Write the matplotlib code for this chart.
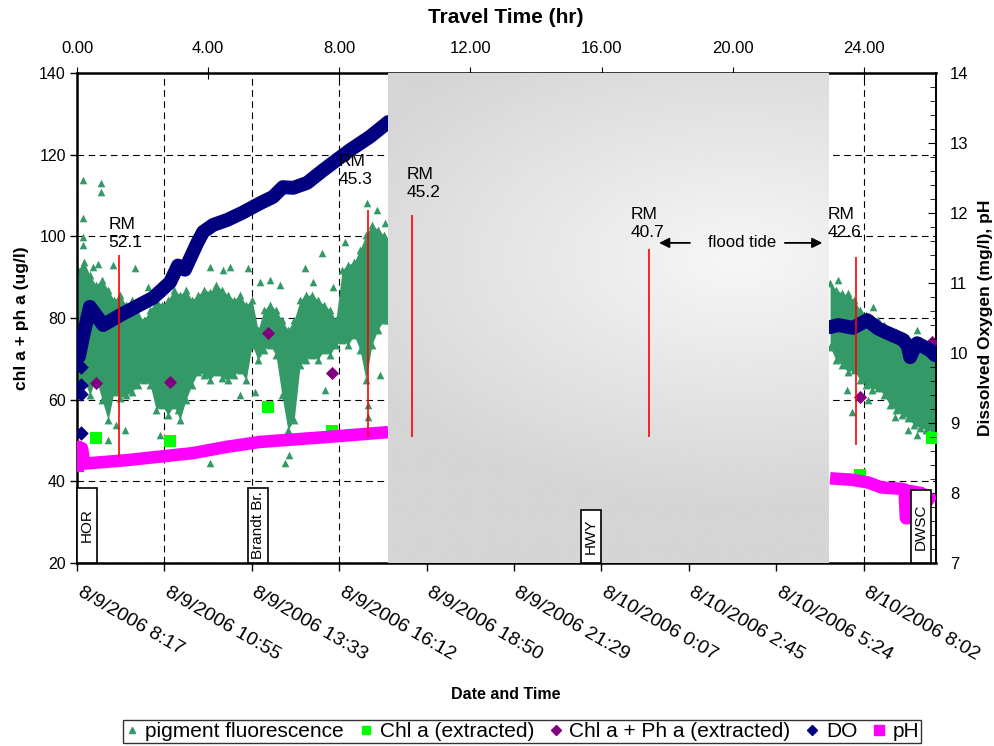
import numpy as np
import matplotlib
matplotlib.use('Agg')
import matplotlib.pyplot as plt
import matplotlib.transforms as mtransforms
from matplotlib.ticker import MultipleLocator
from matplotlib.patches import Rectangle
from matplotlib.lines import Line2D

plt.rcParams['font.family'] = ['Liberation Sans', 'DejaVu Sans']

# time is hours after 8/9/2006 8:17
date_tick_hr = [0, 2.64, 5.28, 7.92, 10.56, 13.2, 15.84, 18.48, 21.12, 23.76]
date_labels = ['8/9/2006 8:17', '8/9/2006 10:55', '8/9/2006 13:33', '8/9/2006 16:12',
               '8/9/2006 18:50', '8/9/2006 21:29', '8/10/2006 0:07', '8/10/2006 2:45',
               '8/10/2006 5:24', '8/10/2006 8:02']
travel_ticks = [0, 4, 8, 12, 16, 20, 24]

# pigment fluorescence, dense band (envelope) before and after the gap
fl1_t = [0.03, 0.21, 0.39, 0.57, 0.76, 0.94, 1.12, 1.30, 1.48, 1.66, 1.84, 2.02, 2.21, 2.39,
         2.57, 2.75, 2.93, 3.11, 3.29, 3.47, 3.66, 3.84, 4.02, 4.20, 4.38, 4.56, 4.74, 4.92,
         5.11, 5.29, 5.47, 5.65, 5.83, 6.01, 6.19, 6.37, 6.56, 6.74, 6.92, 7.10, 7.28, 7.46,
         7.64, 7.82, 8.01, 8.19, 8.37, 8.55, 8.73, 8.91, 9.09, 9.27, 9.40]
fl1_hi = [91.8, 93.7, 90.5, 88.1, 89.3, 86.9, 84.4, 85.6, 83.2, 84.4, 80.7, 79.5, 82.0, 84.4,
          83.2, 84.4, 86.9, 85.6, 86.9, 84.4, 85.6, 86.9, 86.4, 88.1, 86.9, 85.6, 84.4, 85.6,
          83.2, 84.4, 77.1, 82.0, 83.2, 82.0, 79.5, 77.1, 79.5, 84.4, 85.6, 85.6, 84.4, 83.2,
          82.0, 79.5, 91.8, 93.0, 93.7, 96.7, 100.3, 102.8, 101.6, 100.3, 99.1]
fl1_lo = [63.6, 64.8, 61.1, 65.3, 59.9, 55.0, 61.9, 60.4, 61.1, 61.9, 63.6, 64.8, 63.6, 57.5,
          58.7, 56.2, 58.7, 55.0, 59.9, 63.6, 66.8, 66.0, 64.8, 66.8, 65.3, 64.8, 66.0, 67.3,
          64.8, 73.4, 69.7, 72.2, 73.4, 70.9, 61.1, 52.6, 55.0, 68.5, 69.7, 70.9, 69.7, 72.2,
          70.9, 73.4, 74.6, 73.4, 75.8, 72.2, 64.8, 73.4, 77.1, 79.5, 79.5]
fl2_t = [22.75, 22.93, 23.11, 23.29, 23.47, 23.66, 23.84, 24.02, 24.20, 24.38, 24.56, 24.74,
         24.92, 25.11, 25.29, 25.47, 25.65, 25.83, 25.92]
fl2_hi = [88.6, 86.9, 86.1, 85.6, 84.4, 82.0, 80.7, 80.0, 79.5, 78.3, 77.1, 76.6, 75.8, 75.1,
          73.9, 73.4, 72.9, 72.2, 70.9]
fl2_lo = [72.9, 69.7, 68.5, 66.8, 67.3, 64.8, 63.6, 62.4, 62.9, 61.1, 58.7, 57.5, 56.2, 55.5,
          53.8, 53.1, 52.6, 52.1, 51.3]
# scattered single readings
fl_pt_t = [0.18, 0.73, 0.73, 0.18, 0.18, 0.18, 0.48, 0.63, 1.09, 1.75, 2.15, 4.02, 4.41, 4.62,
           5.17, 5.53, 5.83, 6.13, 6.89, 7.13, 7.40, 7.73, 8.10, 8.76, 9.06, 9.31,
           0.94, 1.18, 1.45, 2.51, 3.05, 4.02, 6.28, 6.40, 8.79, 8.79, 9.15, 7.49, 4.92, 5.38,
           22.99, 23.29, 24.05, 24.65, 25.38, 23.26, 23.41, 23.90, 24.71, 25.11, 25.38, 25.90]
fl_pt_v = [113.8, 113.1, 110.9, 104.5, 99.8, 97.9, 92.5, 93.2, 93.0, 92.2, 87.6, 92.5, 91.8, 92.5,
           92.2, 88.8, 89.3, 88.1, 92.2, 88.8, 95.9, 87.6, 98.6, 108.2, 106.5, 103.3,
           50.1, 53.8, 52.6, 51.3, 57.5, 44.5, 44.5, 46.4, 55.8, 58.7, 66.0, 62.4, 61.1, 61.9,
           89.3, 86.1, 82.7, 75.3, 77.1, 62.4, 57.0, 59.9, 55.8, 52.6, 51.3, 51.8]

chl_t = [0.57, 2.81, 5.77, 7.70, 23.66, 25.83]
chl_v = [50.6, 49.9, 58.2, 52.3, 41.6, 50.6]
chlph_t = [0.57, 2.81, 5.77, 7.70, 23.66, 25.83]
chlph_v = [64.1, 64.3, 76.3, 66.5, 60.7, 74.1]

do1_t = [0.06, 0.18, 0.39, 0.79, 1.30, 2.30, 2.81, 3.05, 3.26, 3.63, 3.81, 4.11, 4.53, 4.98,
         5.53, 5.92, 6.22, 6.53, 6.95, 7.43, 7.85, 8.25, 8.85, 9.30, 9.40]
do1_v = [9.95, 10.23, 10.66, 10.40, 10.54, 10.79, 11.01, 11.25, 11.19, 11.57, 11.73, 11.83,
         11.90, 12.00, 12.14, 12.23, 12.37, 12.36, 12.43, 12.61, 12.76, 12.90, 13.09, 13.26, 13.30]
do2_t = [22.75, 23.00, 23.44, 23.87, 24.20, 24.47, 24.95, 25.10, 25.17, 25.30, 25.38, 25.77, 25.92]
do2_v = [10.37, 10.40, 10.36, 10.47, 10.35, 10.29, 10.19, 10.10, 9.94, 10.08, 10.14, 10.04, 9.97]
do_pt_t = [0.12, 0.12, 0.12, 0.12]
do_pt_v = [8.86, 9.42, 9.55, 9.80]

ph1_t = [0.02, 0.04, 0.15, 0.22, 0.48, 1.51, 3.50, 4.53, 5.53, 7.55, 9.40]
ph1_v = [8.30, 8.66, 8.64, 8.42, 8.43, 8.47, 8.57, 8.66, 8.73, 8.80, 8.87]
ph2_t = [22.75, 23.40, 23.90, 24.30, 24.90, 25.00, 25.04, 25.10, 25.14, 25.50, 25.90]
ph2_v = [8.21, 8.19, 8.15, 8.08, 8.06, 8.05, 7.64, 7.64, 8.03, 8.00, 7.87]

# river mile markers: time, bottom, top
rm_labels = ['52.1', '45.3', '45.2', '40.7', '42.6']
rm_t = [1.27, 8.79, 10.12, 17.28, 23.53]
rm_lo = [46.0, 50.9, 50.9, 50.9, 48.9]
rm_hi = [95.4, 106.5, 105.2, 96.9, 94.9]
rm_text_t = [0.94, 7.89, 9.97, 16.71, 22.69]
rm_text_v = [104.8, 120.2, 117.0, 107.2, 107.2]

stations = ['HOR', 'Brandt Br.', 'HWY', 'DWSC']
station_t = [0.0, 5.17, 15.23, 25.20]
station_h = [18.4, 18.4, 13.0, 17.9]

GREEN = '#339966'

fig = plt.figure(figsize=(9.95, 7.46), dpi=100)
ax = fig.add_axes([0.0774, 0.2453, 0.8633, 0.6568])
ax.set_xlim(0, 25.95)
ax.set_ylim(20, 140)

ax.fill_between(fl1_t, fl1_lo, fl1_hi, color=GREEN, lw=0, zorder=2)
ax.fill_between(fl2_t, fl2_lo, fl2_hi, color=GREEN, lw=0, zorder=2)
edge_t = fl1_t + fl1_t + fl2_t + fl2_t
edge_v = fl1_lo + fl1_hi + fl2_lo + fl2_hi
ax.scatter(edge_t, edge_v, marker='^', s=32, color=GREEN, lw=0, zorder=2)
ax.scatter(fl_pt_t, fl_pt_v, marker='^', s=30, color=GREEN, lw=0, zorder=2)
ax.scatter(chl_t, chl_v, marker='s', s=75, color='#00ff00', lw=0, zorder=4)
ax.scatter(chlph_t, chlph_v, marker='D', s=45, color='#800080', lw=0, zorder=4)

ax.set_yticks(np.arange(20, 141, 20))
ax.set_xticks(date_tick_hr)
ax.set_xticklabels(date_labels, rotation=-30, ha='left', rotation_mode='anchor', fontsize=14)
ax.tick_params(axis='x', direction='out', length=6, width=1, pad=9)
ax.tick_params(axis='y', direction='out', length=5, width=1, labelsize=11.5, pad=3)
shift = mtransforms.ScaledTranslation(6 / 100, 0, fig.dpi_scale_trans)
for lab in ax.get_xticklabels():
    lab.set_transform(lab.get_transform() + shift)
ax.grid(True, color='black', linestyle=(0, (6, 4)), lw=0.8)
ax.set_axisbelow(True)
for s in ['left', 'bottom', 'top']:
    ax.spines[s].set_linewidth(1.8)
ax.spines['right'].set_linewidth(1.4)

ax_r = ax.twinx()
ax_r.set_ylim(7, 14)
ax_r.plot(do1_t, do1_v, color='#000080', lw=10, solid_capstyle='round', solid_joinstyle='round')
ax_r.plot(do2_t, do2_v, color='#000080', lw=10, solid_capstyle='round', solid_joinstyle='round')
ax_r.scatter(do_pt_t, do_pt_v, marker='D', s=55, color='#000080', lw=0)
ax_r.plot(ph1_t, ph1_v, color='#ff00ff', lw=9, solid_capstyle='butt', solid_joinstyle='round')
ax_r.plot(ph2_t, ph2_v, color='#ff00ff', lw=9, solid_capstyle='butt', solid_joinstyle='round')
ax_r.yaxis.set_major_locator(MultipleLocator(1))
ax_r.yaxis.set_minor_locator(MultipleLocator(0.2))
ax_r.tick_params(axis='y', which='major', direction='in', length=6, labelsize=12, pad=10)
ax_r.tick_params(axis='y', which='minor', direction='in', length=4)
for s in ax_r.spines.values():
    s.set_visible(False)

ax_top = ax.twiny()
ax_top.set_xlim(0, 26.2)
ax_top.set_xticks(travel_ticks)
ax_top.set_xticklabels(['%.2f' % v for v in travel_ticks])
ax_top.tick_params(axis='x', direction='inout', length=8, labelsize=12, pad=8)
for s in ax_top.spines.values():
    s.set_visible(False)

# overlay: shaded gap, river miles, station boxes
ax_ov = fig.add_axes([0.0774, 0.2453, 0.8633, 0.6568], zorder=10)
ax_ov.set_axis_off()
ax_ov.patch.set_visible(False)
gx, gy = np.meshgrid(np.linspace(0, 1, 200), np.linspace(0, 1, 200))
rr = np.sqrt((gx - 0.8) ** 2 + ((gy - 0.38) / 0.5) ** 2)
shade = 0.965 - 0.13 * np.clip(rr, 0, 1)
ax_ov.imshow(shade, extent=[9.40, 22.72, 19.6, 140.4], aspect='auto', cmap='gray',
             vmin=0, vmax=1, interpolation='bilinear', zorder=1)
ax_ov.set_xlim(0, 25.95)
ax_ov.set_ylim(20, 140)

ax_ov.vlines(rm_t, rm_lo, rm_hi, color='red', lw=1.2, zorder=3)
for lab, tt, vv in zip(rm_labels, rm_text_t, rm_text_v):
    ax_ov.text(tt, vv, 'RM\n' + lab, fontsize=12.5, ha='left', va='top', linespacing=1.25, zorder=4)

ax_ov.text(20.1, 98.4, 'flood tide', fontsize=12, ha='center', va='center', zorder=4)
ax_ov.annotate('', xy=(17.5, 98.4), xytext=(18.6, 98.4),
               arrowprops=dict(arrowstyle='-|>', color='black', lw=1.3, mutation_scale=15))
ax_ov.annotate('', xy=(22.6, 98.4), xytext=(21.3, 98.4),
               arrowprops=dict(arrowstyle='-|>', color='black', lw=1.3, mutation_scale=15))

for name, tt, hh in zip(stations, station_t, station_h):
    ax_ov.add_patch(Rectangle((tt, 20), 0.6, hh, facecolor='white', edgecolor='black',
                              lw=1.2, zorder=5, clip_on=False))
    ax_ov.text(tt + 0.3, 20 + hh / 2, name, rotation=90, fontsize=11, ha='center',
               va='center', zorder=6)

fig.text(0.508, 0.976, 'Travel Time (hr)', fontsize=15, fontweight='bold', ha='center', va='center')
fig.text(0.508, 0.0697, 'Date and Time', fontsize=11.5, fontweight='bold', ha='center', va='center')
fig.text(0.022, 0.5737, 'chl a + ph a (ug/l)', fontsize=12.5, fontweight='bold', rotation=90,
         ha='center', va='center')
fig.text(0.99, 0.5737, 'Dissolved Oxygen (mg/l), pH', fontsize=12.5, fontweight='bold', rotation=90,
         ha='center', va='center')

handles = [Line2D([], [], ls='', marker='^', color=GREEN, ms=5),
           Line2D([], [], ls='', marker='s', color='#00ff00', ms=6),
           Line2D([], [], ls='', marker='D', color='#800080', ms=5),
           Line2D([], [], ls='', marker='D', color='#000080', ms=5),
           Line2D([], [], ls='', marker='s', color='#ff00ff', ms=7)]
labels = ['pigment fluorescence', 'Chl a (extracted)', 'Chl a + Ph a (extracted)', 'DO', 'pH']
leg = fig.legend(handles, labels, loc='center', bbox_to_anchor=(0.5246, 0.0194), ncol=5,
                 fontsize=15, frameon=True, fancybox=False, edgecolor='black',
                 handlelength=0.7, handletextpad=0.3, columnspacing=0.7, borderpad=0.1,
                 borderaxespad=0)
leg.get_frame().set_linewidth(1.0)

fig.savefig('out.png', dpi=100)
